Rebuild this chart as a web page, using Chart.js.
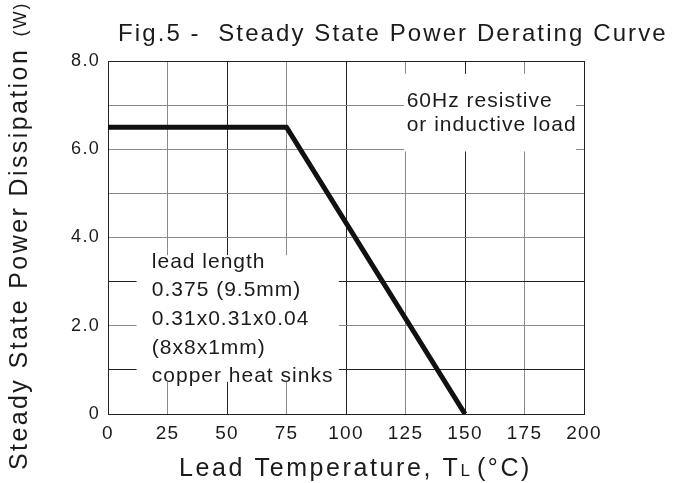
<!DOCTYPE html>
<html>
<head>
<meta charset="utf-8">
<script src="https://cdn.jsdelivr.net/npm/chart.js@4"></script>
<style>
  html, body { margin: 0; padding: 0; background: #fff; }
  #wrap { width: 674px; height: 483px; }
</style>
</head>
<body>
<div id="wrap"><canvas id="derating" width="674" height="483"></canvas></div>
<script>
// curve data: lead temperature (deg C) vs power (W)
const temps = [0, 75, 150];
const power = [6.5, 6.5, 0];
const xTickLabels = ['0', '25', '50', '75', '100', '125', '150', '175', '200'];
const yTickLabels = ['0', '', '2.0', '', '4.0', '', '6.0', '', '8.0'];
const loadNote = ['60Hz resistive', 'or inductive load'];
const sinkNote = ['lead length', '0.375 (9.5mm)', '0.31x0.31x0.04', '(8x8x1mm)', 'copper heat sinks'];

const FONT = '"Liberation Sans", Arial, sans-serif';
const INK = '#1b1b1b';

// white boxes that hide the grid behind the notes (data units)
const boxes = [
  { x0: 124.4, x1: 196.6, y0: 5.95, y1: 7.71 },
  { x0: 12, x1: 97, y0: 0.73, y1: 3.6 }
];

function spacedText(ctx, txt, x, y, size, spacing, align) {
  ctx.font = size + 'px ' + FONT;
  ctx.letterSpacing = spacing + 'px';
  ctx.textAlign = align || 'left';
  ctx.fillText(txt, x, y);
}

const notesPlugin = {
  id: 'notes',
  beforeDraw(chart) {
    chart.ctx.letterSpacing = '1.3px';
  },
  beforeDatasetsDraw(chart) {
    const { ctx, scales: { x, y } } = chart;
    ctx.save();
    ctx.fillStyle = '#fff';
    boxes.forEach(b => {
      const l = x.getPixelForValue(b.x0), r = x.getPixelForValue(b.x1);
      const t = y.getPixelForValue(b.y1), btm = y.getPixelForValue(b.y0);
      ctx.fillRect(l, t, r - l, btm - t);
    });
    ctx.restore();
  },
  afterDatasetsDraw(chart) {
    const { ctx, scales: { x, y } } = chart;
    ctx.save();
    ctx.fillStyle = INK;
    ctx.textBaseline = 'middle';

    let px = x.getPixelForValue(125.5), py = y.getPixelForValue(7.08);
    loadNote.forEach((s, i) => spacedText(ctx, s, px, py + i * 23.5, 21, 1));

    px = x.getPixelForValue(18.4); py = y.getPixelForValue(3.45);
    sinkNote.forEach((s, i) => spacedText(ctx, s, px, py + i * 28.7, 21, 1));
    ctx.restore();
  },
  afterDraw(chart) {
    const ctx = chart.ctx;
    ctx.save();
    ctx.fillStyle = INK;
    ctx.textBaseline = 'alphabetic';

    // chart title
    spacedText(ctx, 'Fig.5 -  Steady State Power Derating Curve', 118, 41, 24, 2.1);

    // x axis title with subscript L
    ctx.font = '25px ' + FONT;
    ctx.letterSpacing = '2.6px';
    let cx = 179;
    const a = 'Lead Temperature, T';
    ctx.textAlign = 'left';
    ctx.fillText(a, cx, 476);
    cx += ctx.measureText(a).width;
    spacedText(ctx, 'L', cx, 476, 17, 2);
    cx += ctx.measureText('L').width + 5;
    spacedText(ctx, '(\u00B0C)', cx, 476, 25, 2.6);

    // y axis title, rotated, smaller (W)
    ctx.translate(27, 470);
    ctx.rotate(-Math.PI / 2);
    const main = 'Steady State Power Dissipation ';
    spacedText(ctx, main, 0, 0, 25, 2.4);
    const w = ctx.measureText(main).width;
    spacedText(ctx, '(W)', w + 2, -1, 18, 2);
    ctx.restore();
  }
};

const gridX = ctx => (ctx.index % 2 === 0 ? '#222' : '#8a8a8a');
const gridY = ctx => ([0, 1, 3, 8].includes(ctx.index) ? '#222' : '#8a8a8a');

new Chart(document.getElementById('derating'), {
  type: 'line',
  data: {
    datasets: [{
      data: temps.map((t, i) => ({ x: t, y: power[i] })),
      borderColor: '#111',
      borderWidth: 5,
      pointRadius: 0,
      tension: 0,
      fill: false
    }]
  },
  options: {
    responsive: false,
    animation: false,
    events: [],
    layout: { padding: { top: 61, right: 90, left: 0, bottom: 0 } },
    plugins: {
      legend: { display: false },
      tooltip: { enabled: false },
      title: { display: false }
    },
    scales: {
      x: {
        type: 'linear',
        min: 0,
        max: 200,
        afterFit: s => { s.height = 69; },
        afterBuildTicks: s => { s.ticks = xTickLabels.map(v => ({ value: +v })); },
        ticks: {
          padding: 8,
          color: INK,
          font: { family: FONT, size: 19 },
          callback: (v, i) => xTickLabels[i]
        },
        grid: { color: gridX, lineWidth: 1, drawTicks: false },
        border: { color: '#222', width: 1 }
      },
      y: {
        type: 'linear',
        min: 0,
        max: 8,
        afterFit: s => { s.width = 108; },
        ticks: {
          stepSize: 1,
          padding: 8,
          color: INK,
          font: { family: FONT, size: 18 },
          callback: (v, i) => yTickLabels[i]
        },
        grid: { color: gridY, lineWidth: 1, drawTicks: false },
        border: { color: '#222', width: 1 }
      }
    }
  },
  plugins: [notesPlugin]
});
</script>
</body>
</html>
